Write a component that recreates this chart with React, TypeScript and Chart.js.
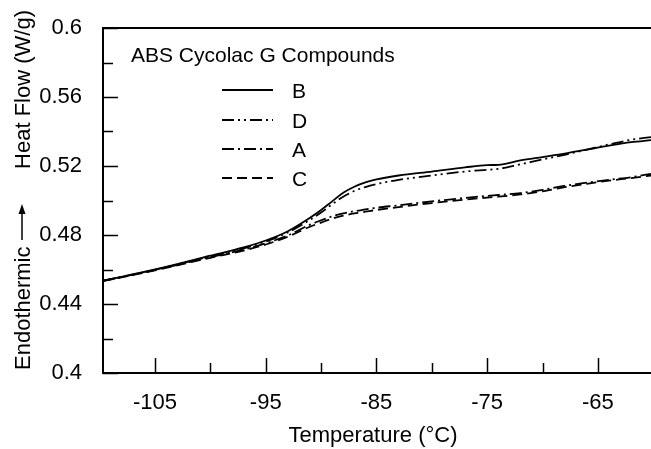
import { useEffect, useRef } from "react";
import { Chart, registerables } from "chart.js";

Chart.register(...registerables);

const temps = [-109.7, -105, -100, -97, -95, -93, -91, -90, -89, -88, -87, -86, -85, -83, -80, -77, -75, -74, -72, -70, -68, -66, -64, -62, -60.2];
const seriesB = [0.4535, 0.46, 0.468, 0.4728, 0.4768, 0.4822, 0.49, 0.4945, 0.4995, 0.5045, 0.508, 0.5105, 0.5122, 0.5145, 0.5168, 0.5192, 0.5205, 0.5207, 0.5232, 0.5252, 0.5272, 0.5295, 0.5318, 0.5338, 0.535];
const seriesD = [0.4535, 0.4598, 0.4676, 0.4722, 0.4762, 0.4815, 0.4888, 0.493, 0.4978, 0.5022, 0.5055, 0.5078, 0.5095, 0.512, 0.5145, 0.5168, 0.5178, 0.5183, 0.521, 0.5238, 0.5265, 0.5295, 0.5325, 0.5352, 0.5368];
const seriesA = [0.4535, 0.4598, 0.4672, 0.4715, 0.4752, 0.4798, 0.486, 0.4885, 0.4908, 0.4925, 0.4938, 0.4948, 0.4958, 0.4972, 0.4995, 0.5015, 0.5027, 0.5032, 0.5043, 0.5062, 0.5085, 0.5103, 0.512, 0.5135, 0.5155];
const seriesC = [0.4532, 0.4595, 0.4668, 0.471, 0.4745, 0.479, 0.4848, 0.4872, 0.4895, 0.4912, 0.4925, 0.4935, 0.4945, 0.4962, 0.4985, 0.5005, 0.5017, 0.5022, 0.5035, 0.5053, 0.5077, 0.5097, 0.5115, 0.513, 0.5145];

const seriesNames = ["B", "D", "A", "C"];
const xMajorTicks = [-105, -95, -85, -75, -65];
const xMinorTicks = [-100, -90, -80, -70, -60];
const yMajorTicks = [0.4, 0.44, 0.48, 0.52, 0.56, 0.6];
const yMinorTicks = [0.42, 0.46, 0.5, 0.54, 0.58];
const xMin = -109.7;
const xMax = -60.2;
const legendTitle = "ABS Cycolac G Compounds";
const xTitle = "Temperature (°C)";
const yTitleLow = "Endothermic";
const yTitleHigh = "Heat Flow (W/g)";

const FONT = '"Liberation Sans", Arial, Helvetica, sans-serif';
const dashes: number[][] = [[], [12, 4, 2, 4, 2, 4], [12, 4, 2, 4], [10, 5]];

const decor = {
  id: "decor",
  afterDraw(chart: any) {
    const { ctx, chartArea: a } = chart;
    const xs = chart.scales.x;
    const ys = chart.scales.y;
    ctx.save();
    ctx.strokeStyle = "#000";
    ctx.fillStyle = "#000";
    ctx.lineWidth = 2;
    ctx.setLineDash([]);
    ctx.beginPath();
    ctx.moveTo(a.right + 2, a.top);
    ctx.lineTo(a.left, a.top);
    ctx.lineTo(a.left, a.bottom);
    ctx.lineTo(a.right + 2, a.bottom);
    ctx.stroke();
    ctx.lineWidth = 1.5;
    ctx.beginPath();
    xMajorTicks.forEach((v) => {
      const p = Math.round(xs.getPixelForValue(v)) + 0.5;
      ctx.moveTo(p, a.bottom);
      ctx.lineTo(p, a.bottom - 15);
    });
    xMinorTicks.forEach((v) => {
      const p = Math.round(xs.getPixelForValue(v)) + 0.5;
      ctx.moveTo(p, a.bottom);
      ctx.lineTo(p, a.bottom - 10);
    });
    yMajorTicks.forEach((v) => {
      const p = Math.round(ys.getPixelForValue(v)) + 0.5;
      ctx.moveTo(a.left, p);
      ctx.lineTo(a.left + 15, p);
    });
    yMinorTicks.forEach((v) => {
      const p = Math.round(ys.getPixelForValue(v)) + 0.5;
      ctx.moveTo(a.left, p);
      ctx.lineTo(a.left + 10, p);
    });
    ctx.stroke();

    // x title
    ctx.font = `22px ${FONT}`;
    ctx.textAlign = "center";
    ctx.textBaseline = "alphabetic";
    ctx.fillText(xTitle, 373, 442);

    // y title
    ctx.save();
    ctx.translate(30, 0);
    ctx.rotate(-Math.PI / 2);
    ctx.textAlign = "left";
    ctx.fillText(yTitleLow, -370, 0);
    ctx.textAlign = "right";
    ctx.fillText(yTitleHigh, -10, 0);
    // arrow
    ctx.lineWidth = 1.5;
    ctx.beginPath();
    ctx.moveTo(-240, -8);
    ctx.lineTo(-210, -8);
    ctx.stroke();
    ctx.beginPath();
    ctx.moveTo(-204, -8);
    ctx.lineTo(-214, -11.5);
    ctx.lineTo(-214, -4.5);
    ctx.closePath();
    ctx.fill();
    ctx.restore();

    // legend
    ctx.font = `21px ${FONT}`;
    ctx.textAlign = "left";
    ctx.fillText(legendTitle, 131, 62);
    const rows = [90, 120, 149, 178];
    seriesNames.forEach((n, i) => {
      const yy = rows[i];
      ctx.lineWidth = 2;
      ctx.setLineDash(dashes[i]);
      ctx.beginPath();
      ctx.moveTo(222, yy);
      ctx.lineTo(273, yy);
      ctx.stroke();
      ctx.setLineDash([]);
      ctx.fillText(n, 292, yy + 8);
    });
    ctx.restore();
  },
};

export default function App() {
  const ref = useRef<HTMLCanvasElement>(null);
  useEffect(() => {
    if (!ref.current) return;
    const all = [seriesB, seriesD, seriesA, seriesC];
    const chart = new Chart(ref.current, {
      type: "line",
      data: {
        datasets: all.map((s, i) => ({
          label: seriesNames[i],
          data: temps.map((t, j) => ({ x: t, y: s[j] })),
          borderColor: "#000",
          borderWidth: 1.8,
          borderDash: dashes[i],
          pointRadius: 0,
          fill: false,
          cubicInterpolationMode: "monotone" as const,
        })),
      },
      options: {
        animation: false,
        responsive: false,
        devicePixelRatio: 1,
        layout: { padding: { top: 28, left: 0, right: 0, bottom: 0 } },
        plugins: { legend: { display: false }, tooltip: { enabled: false }, title: { display: false } },
        scales: {
          x: {
            type: "linear",
            min: xMin,
            max: xMax,
            grid: { display: false },
            border: { display: false },
            afterBuildTicks: (s: any) => {
              s.ticks = xMajorTicks.map((v) => ({ value: v }));
            },
            afterFit: (s: any) => {
              s.height = 76;
            },
            ticks: {
              color: "#000",
              font: { family: FONT, size: 22 },
              padding: 9,
              maxRotation: 0,
              autoSkip: false,
              callback: (v: any) => String(v),
            },
          },
          y: {
            type: "linear",
            min: 0.4,
            max: 0.6,
            grid: { display: false },
            border: { display: false },
            afterBuildTicks: (s: any) => {
              s.ticks = yMajorTicks.map((v) => ({ value: v }));
            },
            afterFit: (s: any) => {
              s.width = 103;
            },
            ticks: {
              color: "#000",
              font: { family: FONT, size: 22 },
              padding: 13,
              autoSkip: false,
              callback: (v: any) => String(Number(Number(v).toFixed(2))),
            },
          },
        },
      },
      plugins: [decor],
    });
    return () => chart.destroy();
  }, []);
  return (
    <div style={{ position: "fixed", left: 0, top: 0, width: 651, height: 449, background: "#fff" }}>
      <canvas ref={ref} width={651} height={449} style={{ width: 651, height: 449 }} />
    </div>
  );
}
